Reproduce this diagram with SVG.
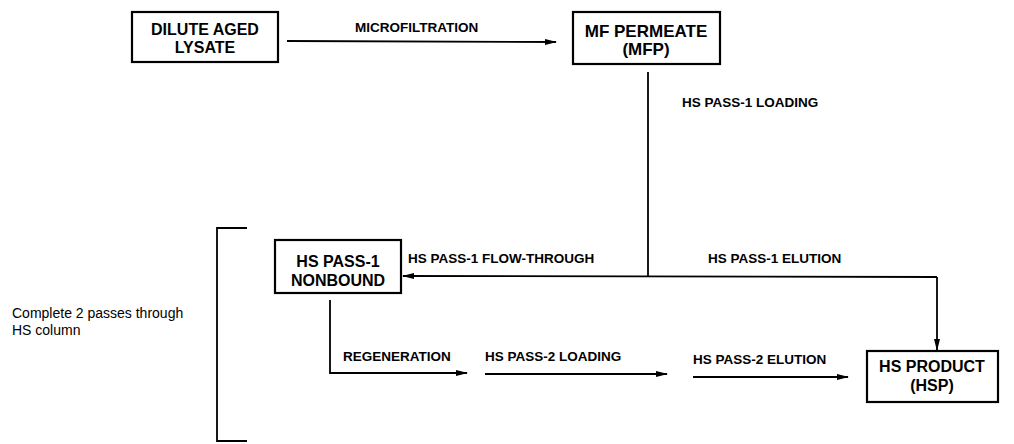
<svg xmlns="http://www.w3.org/2000/svg" width="1014" height="444" viewBox="0 0 1014 444">
<defs>
<style>
.box{fill:#fff;stroke:#000;stroke-width:2.2}
.nt{font-family:"Liberation Sans",Arial,sans-serif;font-weight:bold;font-size:16px;fill:#000;text-anchor:middle}
.el{font-family:"Liberation Sans",Arial,sans-serif;font-weight:bold;font-size:13.5px;fill:#000}
.note{font-family:"Liberation Sans",Arial,sans-serif;font-size:14px;fill:#000}
.ln{fill:none;stroke:#000;stroke-width:1.8}
</style>
<marker id="ah" viewBox="0 0 12 8" refX="11" refY="4" markerWidth="12" markerHeight="8" markerUnits="userSpaceOnUse" orient="auto">
<path d="M0,1 L12,4 L0,7 Z" fill="#000"/>
</marker>
</defs>
<rect width="1014" height="444" fill="#fff"/>
<g id="connectors">
<line class="ln" x1="287" y1="41" x2="556" y2="42" marker-end="url(#ah)"/>
<line class="ln" x1="648" y1="72" x2="648" y2="277"/>
<line class="ln" x1="937" y1="277" x2="403" y2="276" marker-end="url(#ah)"/>
<line class="ln" x1="937" y1="277" x2="937" y2="350" marker-end="url(#ah)"/>
<polyline class="ln" points="330,300 330,373 467,373" marker-end="url(#ah)"/>
<line class="ln" x1="485" y1="374" x2="667" y2="374" marker-end="url(#ah)"/>
<line class="ln" x1="693" y1="377" x2="848" y2="377" marker-end="url(#ah)"/>
<polyline class="ln" points="247,228 217,228 217,441 247,441"/>
</g>
<g id="labels">
<text class="el" x="355" y="32">MICROFILTRATION</text>
<text class="el" x="682" y="107">HS PASS-1 LOADING</text>
<text class="el" x="408" y="263">HS PASS-1 FLOW-THROUGH</text>
<text class="el" x="708" y="263">HS PASS-1 ELUTION</text>
<text class="el" x="343" y="361">REGENERATION</text>
<text class="el" x="485" y="361">HS PASS-2 LOADING</text>
<text class="el" x="693" y="364">HS PASS-2 ELUTION</text>
<text class="note" x="12" y="318">Complete 2 passes through</text>
<text class="note" x="12" y="335">HS column</text>
</g>
<g id="dilute">
<rect class="box" x="132" y="12" width="146" height="50"/>
<text class="nt" x="205" y="35">DILUTE AGED</text>
<text class="nt" x="205" y="53">LYSATE</text>
</g>
<g id="mfp">
<rect class="box" x="573" y="12" width="147" height="52"/>
<text class="nt" x="646" y="37" style="font-size:17px">MF PERMEATE</text>
<text class="nt" x="646" y="55" style="font-size:17px">(MFP)</text>
</g>
<g id="nonbound">
<rect class="box" x="275" y="240" width="126" height="53"/>
<text class="nt" x="338" y="267">HS PASS-1</text>
<text class="nt" x="338" y="286">NONBOUND</text>
</g>
<g id="hsp">
<rect class="box" x="867" y="351" width="131" height="51"/>
<text class="nt" x="932" y="372">HS PRODUCT</text>
<text class="nt" x="932" y="391">(HSP)</text>
</g>
</svg>
